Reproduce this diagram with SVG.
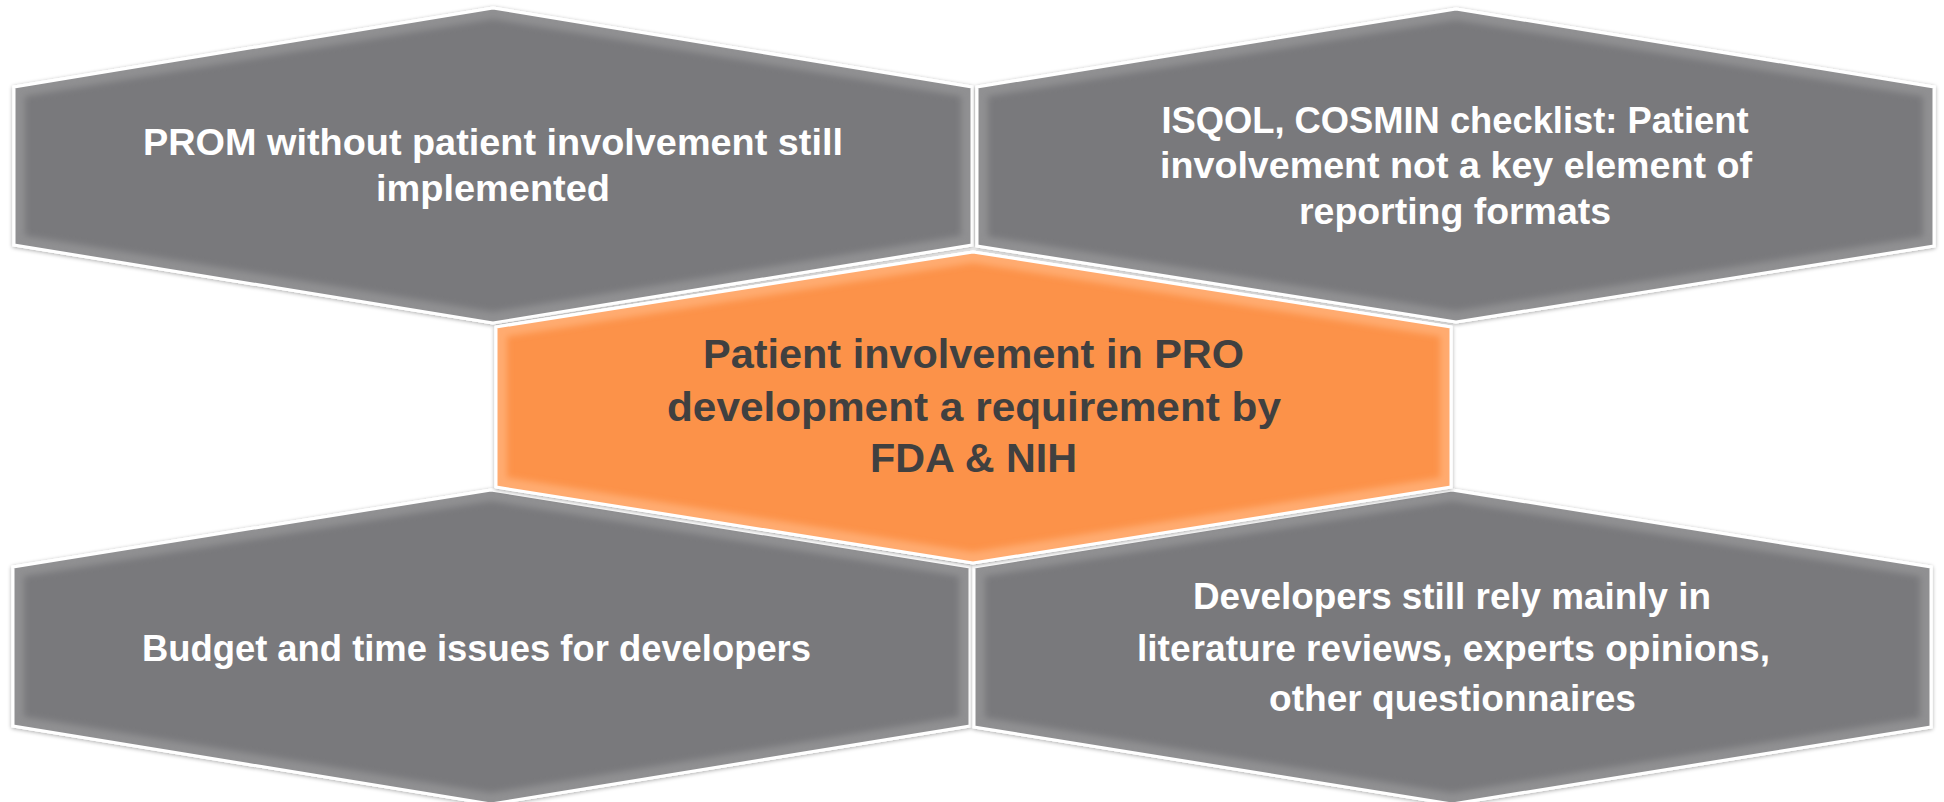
<svg xmlns="http://www.w3.org/2000/svg" xmlns:xlink="http://www.w3.org/1999/xlink" width="1944" height="802" viewBox="0 0 1944 802">
  <style>
    .gray { fill: #79797b; stroke: #ffffff; stroke-width: 3; }
    .orange { fill: #fc9249; stroke: #ffffff; stroke-width: 3; }
    .bevG { fill: none; stroke: #909092; stroke-width: 22; filter: url(#soft); }
    .bevO { fill: none; stroke: #ffab70; stroke-width: 22; filter: url(#soft); }
    .lt { font-family: "Liberation Sans", Arial, sans-serif; font-weight: bold; font-size: 36px; fill: #ffffff; text-anchor: middle; }
    .dk { font-family: "Liberation Sans", Arial, sans-serif; font-weight: bold; font-size: 40px; fill: #404040; text-anchor: middle; }
  </style>
  <defs>
    <filter id="soft" x="-5%" y="-5%" width="110%" height="110%">
      <feGaussianBlur stdDeviation="3"/>
    </filter>
    <filter id="shadow" x="-5%" y="-5%" width="110%" height="110%">
      <feGaussianBlur in="SourceAlpha" stdDeviation="2"/>
      <feOffset dy="1"/>
      <feComponentTransfer><feFuncA type="linear" slope="0.35"/></feComponentTransfer>
      <feMerge><feMergeNode/><feMergeNode in="SourceGraphic"/></feMerge>
    </filter>
    <polygon id="pTL" points="493,8 972,87 972,245 493,323 14,245 14,87"/>
    <polygon id="pTR" points="1456,9 1934,87 1934,246 1456,322 977,246 977,87"/>
    <polygon id="pC" points="973,252 1451,327 1451,487 973,563 496,487 496,327"/>
    <polygon id="pBL" points="491,490 970,567 970,726 491,804 13,726 13,567"/>
    <polygon id="pBR" points="1452,490 1931,567 1931,727 1452,804 974,727 974,567"/>
    <clipPath id="cTL"><use xlink:href="#pTL"/></clipPath>
    <clipPath id="cTR"><use xlink:href="#pTR"/></clipPath>
    <clipPath id="cC"><use xlink:href="#pC"/></clipPath>
    <clipPath id="cBL"><use xlink:href="#pBL"/></clipPath>
    <clipPath id="cBR"><use xlink:href="#pBR"/></clipPath>
  </defs>
  <rect x="0" y="0" width="1944" height="802" fill="#ffffff"/>

  <g id="connectors"></g>

  <g id="node-tl">
    <use xlink:href="#pTL" class="gray" filter="url(#shadow)"/>
    <g clip-path="url(#cTL)"><use xlink:href="#pTL" class="bevG"/></g>
    <use xlink:href="#pTL" fill="none" stroke="#ffffff" stroke-width="3"/>
    <text class="lt"><tspan x="493" y="155" textLength="700" lengthAdjust="spacingAndGlyphs">PROM without patient involvement still</tspan><tspan x="493" y="201" textLength="234" lengthAdjust="spacingAndGlyphs">implemented</tspan></text>
  </g>

  <g id="node-tr">
    <use xlink:href="#pTR" class="gray" filter="url(#shadow)"/>
    <g clip-path="url(#cTR)"><use xlink:href="#pTR" class="bevG"/></g>
    <use xlink:href="#pTR" fill="none" stroke="#ffffff" stroke-width="3"/>
    <text class="lt"><tspan x="1455" y="133" textLength="587" lengthAdjust="spacingAndGlyphs">ISQOL, COSMIN checklist: Patient</tspan><tspan x="1456" y="178" textLength="592" lengthAdjust="spacingAndGlyphs">involvement not a key element of</tspan><tspan x="1455" y="224" textLength="312" lengthAdjust="spacingAndGlyphs">reporting formats</tspan></text>
  </g>

  <g id="node-bl">
    <use xlink:href="#pBL" class="gray" filter="url(#shadow)"/>
    <g clip-path="url(#cBL)"><use xlink:href="#pBL" class="bevG"/></g>
    <use xlink:href="#pBL" fill="none" stroke="#ffffff" stroke-width="3"/>
    <text class="lt"><tspan x="476.5" y="661" textLength="669" lengthAdjust="spacingAndGlyphs">Budget and time issues for developers</tspan></text>
  </g>

  <g id="node-br">
    <use xlink:href="#pBR" class="gray" filter="url(#shadow)"/>
    <g clip-path="url(#cBR)"><use xlink:href="#pBR" class="bevG"/></g>
    <use xlink:href="#pBR" fill="none" stroke="#ffffff" stroke-width="3"/>
    <text class="lt"><tspan x="1452" y="609" textLength="518" lengthAdjust="spacingAndGlyphs">Developers still rely mainly in</tspan><tspan x="1453.5" y="661" textLength="633" lengthAdjust="spacingAndGlyphs">literature reviews, experts opinions,</tspan><tspan x="1452.5" y="711" textLength="367" lengthAdjust="spacingAndGlyphs">other questionnaires</tspan></text>
  </g>

  <g id="node-center">
    <use xlink:href="#pC" class="orange" filter="url(#shadow)"/>
    <g clip-path="url(#cC)"><use xlink:href="#pC" class="bevO"/></g>
    <use xlink:href="#pC" fill="none" stroke="#ffffff" stroke-width="3"/>
    <text class="dk"><tspan x="973.5" y="368" textLength="541" lengthAdjust="spacingAndGlyphs">Patient involvement in PRO</tspan><tspan x="974" y="421" textLength="614" lengthAdjust="spacingAndGlyphs">development a requirement by</tspan><tspan x="973.5" y="472" textLength="207" lengthAdjust="spacingAndGlyphs">FDA &amp; NIH</tspan></text>
  </g>
</svg>
